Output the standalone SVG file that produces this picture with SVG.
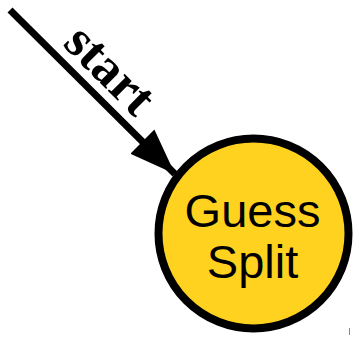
<svg xmlns="http://www.w3.org/2000/svg" width="355" height="339" viewBox="0 0 355 339">
<style>
.lbl{font-family:"Liberation Serif","Times New Roman",serif;font-weight:bold;font-size:52px;fill:#000}
.node{fill:#FFD21F;stroke:#000;stroke-width:8}
.ntxt{font-family:"Liberation Sans",Arial,sans-serif;font-size:47px;fill:#000;text-anchor:middle}
</style>
<defs>
<marker id="ah" markerUnits="userSpaceOnUse" markerWidth="50" markerHeight="40" refX="46" refY="17" orient="auto" viewBox="0 0 50 34">
<path d="M0,0 L46,17 L0,34 Z" fill="#000"/>
</marker>
</defs>
<g id="connectors">
<line x1="10" y1="10" x2="175" y2="174" stroke="#000" stroke-width="7" marker-end="url(#ah)"/>
<text class="lbl" transform="translate(98.5,81.5) rotate(45)" text-anchor="middle">start</text>
</g>
<g id="guess-split">
<circle class="node" cx="253.5" cy="233.5" r="95"/>
<text class="ntxt" x="252.5" y="227">Guess</text>
<text class="ntxt" x="252.5" y="278">Split</text>
</g>
<line x1="349.5" y1="328" x2="349.5" y2="335" stroke="#888" stroke-width="1"/>
</svg>
